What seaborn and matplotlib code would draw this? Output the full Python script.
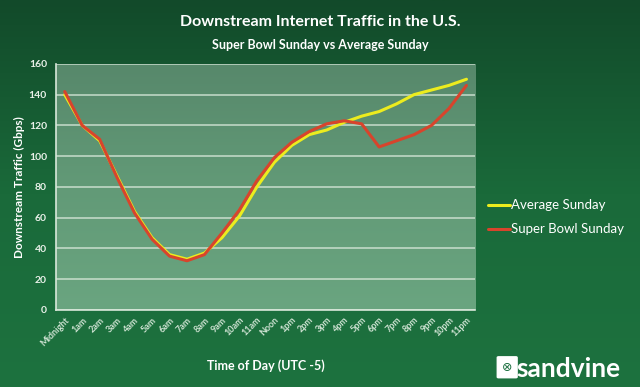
import numpy as np
import pandas as pd
import matplotlib
matplotlib.use('Agg')
import matplotlib.pyplot as plt
import seaborn as sns
from matplotlib.patches import FancyBboxPatch

# Data
hours = ['Midnight', '1am', '2am', '3am', '4am', '5am', '6am', '7am', '8am', '9am',
         '10am', '11am', 'Noon', '1pm', '2pm', '3pm', '4pm', '5pm', '6pm', '7pm',
         '8pm', '9pm', '10pm', '11pm']
average_sunday = [140, 120, 110, 87, 64, 47, 36, 33, 37, 47, 61, 80,
                  96, 107, 114, 117, 122, 126, 129, 134, 140, 143, 146, 150]
super_bowl_sunday = [142, 120, 111, 86, 63, 46, 35, 32, 36, 50, 65, 84,
                     99, 109, 116, 121, 123, 121, 106, 110, 114, 120, 131, 146]

df = pd.DataFrame({
    'idx': list(range(len(hours))) * 2,
    'traffic': average_sunday + super_bowl_sunday,
    'series': ['Average Sunday'] * len(hours) + ['Super Bowl Sunday'] * len(hours),
})

sns.set_style('white')
plt.rcParams['font.family'] = ['Lato', 'DejaVu Sans']

fig = plt.figure(figsize=(6.4, 3.87), dpi=100)

# Background gradient
bg = fig.add_axes([0, 0, 1, 1])
grad = np.linspace(0, 1, 256).reshape(-1, 1)
cmap_bg = matplotlib.colors.LinearSegmentedColormap.from_list('bg', ['#124a2a', '#1a6a3a', '#1d723f'])
bg.imshow(grad, aspect='auto', cmap=cmap_bg, extent=[0, 1, 0, 1], origin='upper')
bg.axis('off')

ax = fig.add_axes([0.0875, 0.199, 0.655, 0.636])
cmap_pl = matplotlib.colors.LinearSegmentedColormap.from_list('pl', ['#57886b', '#629a77', '#6aa580'])
ax.imshow(grad, aspect='auto', cmap=cmap_pl, extent=[-0.5, 23.5, 0, 160], origin='upper', zorder=0)

palette = {'Average Sunday': '#ecec1e', 'Super Bowl Sunday': '#d8442c'}
sns.lineplot(data=df, x='idx', y='traffic', hue='series', palette=palette,
             linewidth=2.2, ax=ax, legend=False, zorder=3)

ax.set_xlim(-0.5, 23.5)
ax.set_ylim(0, 160)
ax.set_yticks(range(0, 161, 20))
ax.set_xticks(range(len(hours)))
ax.set_xticklabels(hours, rotation=45, ha='right', rotation_mode='anchor',
                   color='#e8f0e8', fontsize=6.5, fontweight='bold')
ax.tick_params(axis='y', colors='#e8f0e8', labelsize=7.5, length=3, width=1)
for lab in ax.get_yticklabels():
    lab.set_fontweight('bold')
ax.tick_params(axis='x', colors='#cfe3d3', length=3, width=1)
ax.set_xticks(np.arange(-0.5, 24, 1), minor=True)
ax.tick_params(axis='x', which='minor', length=3, color='#cfe3d3')
ax.tick_params(axis='x', which='major', length=0, pad=4)

ax.yaxis.grid(True, color='#d8e8da', linewidth=1.2, alpha=0.8)
ax.set_axisbelow(False)
for s in ['top', 'right']:
    ax.spines[s].set_visible(False)
for s in ['left', 'bottom']:
    ax.spines[s].set_color('#d8e8da')
    ax.spines[s].set_linewidth(1.2)

ax.set_xlabel('Time of Day (UTC -5)', color='white', fontsize=9, fontweight='bold')
ax.set_ylabel('Downstream Traffic (Gbps)', color='white', fontsize=8.5, fontweight='bold')
ax.xaxis.set_label_coords(0.5, -0.2)
ax.yaxis.set_label_coords(-0.075, 0.5)

# Titles
fig.text(0.5, 0.943, 'Downstream Internet Traffic in the U.S.', ha='center', va='center',
         color='white', fontsize=11.5, fontweight='bold')
fig.text(0.5, 0.885, 'Super Bowl Sunday vs Average Sunday', ha='center', va='center',
         color='white', fontsize=9, fontweight='bold')

# Legend drawn manually at the right
for y, name in [(0.47, 'Average Sunday'), (0.408, 'Super Bowl Sunday')]:
    fig.add_artist(plt.Line2D([0.762, 0.797], [y, y], color=palette[name], linewidth=2.2))
    fig.text(0.798, y, name, color='white', fontsize=9.5, va='center', ha='left')

# Sandvine logo
fig.add_artist(FancyBboxPatch((0.779, 0.026), 0.027, 0.05, boxstyle='round,pad=0.002',
                              facecolor='white', edgecolor='white', transform=fig.transFigure))
fig.text(0.7925, 0.051, '⊗', color='#1c7040', fontsize=9, ha='center', va='center')
fig.text(0.807, 0.046, 'sandvine', color='white', fontsize=19, fontweight='bold',
         ha='left', va='center')

fig.savefig('out.png', dpi=100)
